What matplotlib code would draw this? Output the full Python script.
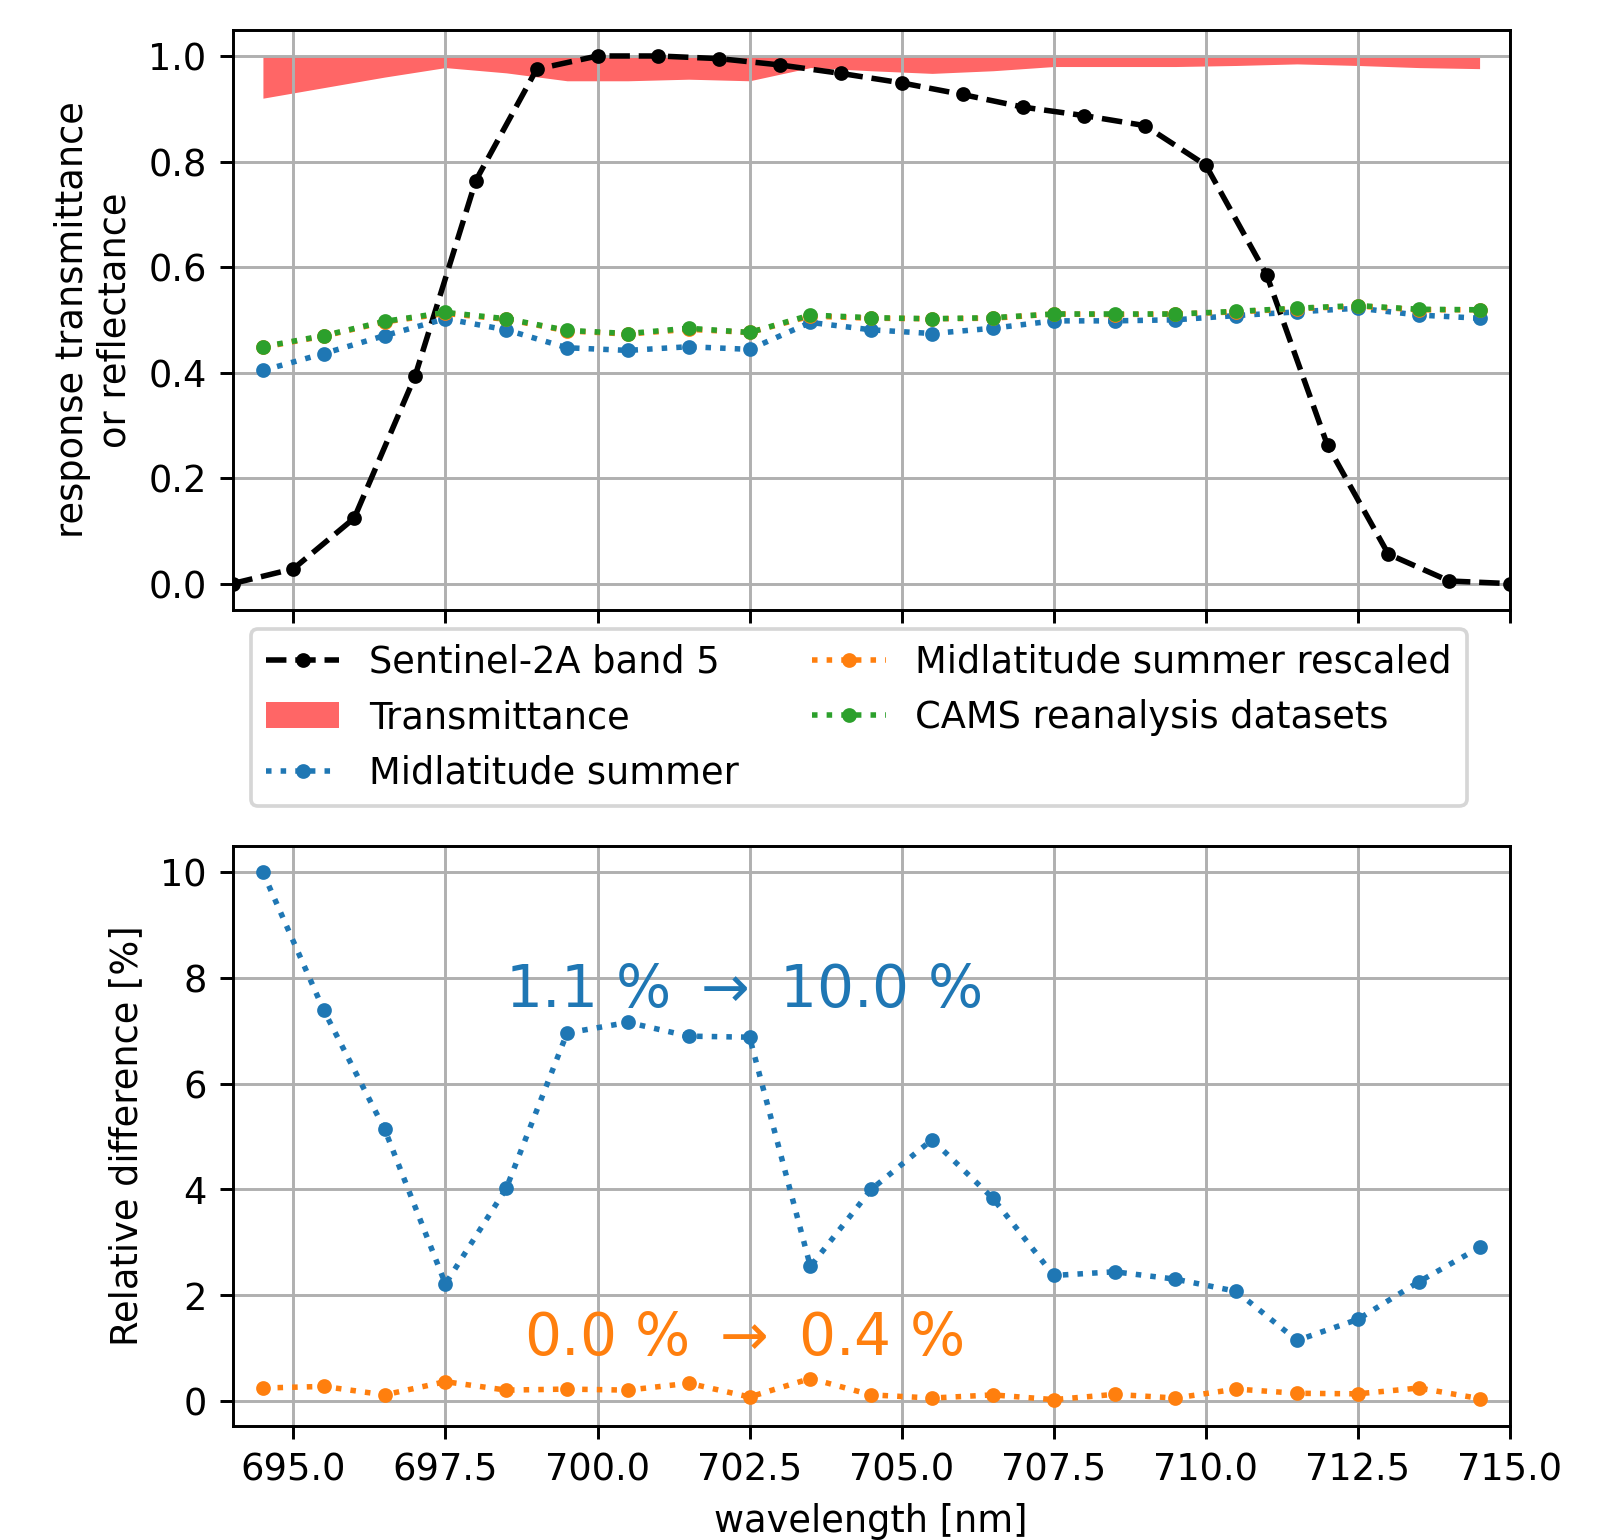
import matplotlib
matplotlib.use("Agg")
import matplotlib.pyplot as plt
import numpy as np

# ---- data ----
wl_srf = [694, 695, 696, 697, 698, 699, 700, 701, 702, 703, 704, 705,
          706, 707, 708, 709, 710, 711, 712, 713, 714, 715]
srf = [0.0, 0.028, 0.124, 0.393, 0.764, 0.975, 1.0, 1.0, 0.995, 0.983, 0.967, 0.949,
       0.927, 0.903, 0.887, 0.868, 0.793, 0.585, 0.262, 0.056, 0.005, 0.0]

wl = [694.5, 695.5, 696.5, 697.5, 698.5, 699.5, 700.5, 701.5, 702.5, 703.5, 704.5,
      705.5, 706.5, 707.5, 708.5, 709.5, 710.5, 711.5, 712.5, 713.5, 714.5]
transmittance = [0.920, 0.940, 0.960, 0.978, 0.968, 0.953, 0.953, 0.956, 0.953, 0.978, 0.972,
                 0.967, 0.972, 0.980, 0.980, 0.980, 0.982, 0.985, 0.982, 0.978, 0.976]
midlat = [0.404, 0.436, 0.470, 0.502, 0.481, 0.447, 0.442, 0.449, 0.444, 0.495, 0.481,
          0.474, 0.484, 0.498, 0.498, 0.500, 0.508, 0.515, 0.522, 0.509, 0.503]
midlat_rescaled = [0.448, 0.469, 0.496, 0.512, 0.501, 0.479, 0.473, 0.482, 0.476, 0.507, 0.503,
                   0.502, 0.503, 0.511, 0.510, 0.511, 0.515, 0.521, 0.526, 0.519, 0.519]
cams = [0.449, 0.470, 0.497, 0.514, 0.502, 0.480, 0.474, 0.484, 0.476, 0.509, 0.504,
        0.502, 0.504, 0.511, 0.511, 0.511, 0.516, 0.522, 0.527, 0.520, 0.519]

diff_midlat = [10.0, 7.39, 5.14, 2.21, 4.02, 6.96, 7.16, 6.90, 6.88, 2.54, 4.00,
               4.94, 3.83, 2.37, 2.44, 2.30, 2.07, 1.14, 1.54, 2.25, 2.90]
diff_rescaled = [0.24, 0.27, 0.11, 0.36, 0.20, 0.22, 0.20, 0.33, 0.07, 0.42, 0.11,
                 0.05, 0.11, 0.02, 0.12, 0.05, 0.22, 0.14, 0.13, 0.24, 0.04]

xticks = [695.0, 697.5, 700.0, 702.5, 705.0, 707.5, 710.0, 712.5, 715.0]
text_midlat = "1.1 % $\\rightarrow$ 10.0 %"
text_rescaled = "0.0 % $\\rightarrow$ 0.4 %"

# ---- figure ----
W, H = 1602, 1540
dpi = 265
fig = plt.figure(figsize=(W / dpi, H / dpi), dpi=dpi)

def frac(l, t, r, b):
    return [l / W, 1 - b / H, (r - l) / W, (b - t) / H]

ax1 = fig.add_axes(frac(232.5, 29.6, 1510, 610))
ax2 = fig.add_axes(frac(232.5, 846, 1510, 1426))

ax1.plot(wl_srf, srf, 'k.--', label='Sentinel-2A band 5')
ax1.fill_between(wl, transmittance, 1, color='red', alpha=0.6, lw=0, label='Transmittance')
ax1.plot(wl, midlat, '.:', color='C0', label='Midlatitude summer')
ax1.plot(wl, midlat_rescaled, '.:', color='C1', label='Midlatitude summer rescaled')
ax1.plot(wl, cams, '.:', color='C2', label='CAMS reanalysis datasets')
ax1.set_xlim(694, 715)
ax1.set_xticks(xticks)
ax1.set_xticklabels([])
ax1.set_ylabel('response transmittance\nor reflectance')
ax1.grid(True)

ax1.legend(loc='upper left', ncol=2, borderaxespad=0,
           bbox_to_anchor=(251 / W, 1 - 629 / H),
           bbox_transform=fig.transFigure)

ax2.plot(wl, diff_midlat, '.:', color='C0')
ax2.plot(wl, diff_rescaled, '.:', color='C1')
ax2.set_xlim(694, 715)
ax2.set_xticks(xticks)
ax2.set_xticklabels([f"{v:.1f}" for v in xticks])
ax2.set_xlabel('wavelength [nm]')
ax2.set_ylabel('Relative difference [%]')
ax2.grid(True)
ax2.text(702.4, 7.46, text_midlat, color='C0', ha='center', va='baseline', fontsize=15.8)
ax2.text(702.4, 0.87, text_rescaled, color='C1', ha='center', va='baseline', fontsize=15.8)

fig.savefig('out.png', dpi=dpi)
